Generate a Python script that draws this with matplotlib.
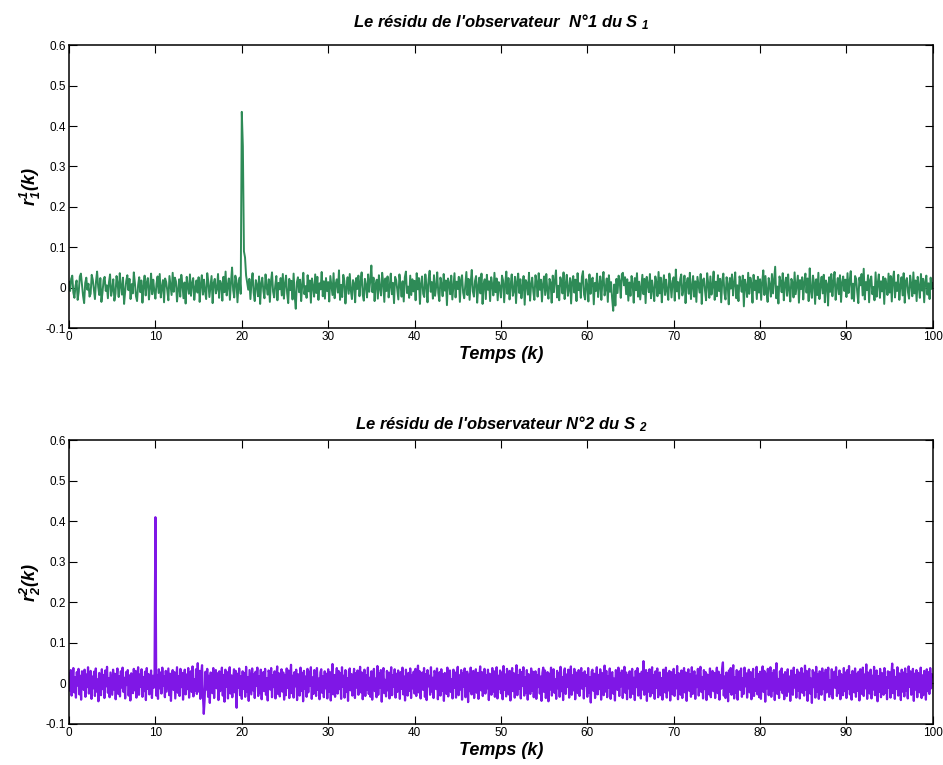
import numpy as np
import matplotlib.pyplot as plt

plt.rcParams["font.family"] = ["Liberation Sans", "DejaVu Sans"]
plt.rcParams["mathtext.fontset"] = "custom"
plt.rcParams["mathtext.rm"] = "Liberation Sans:italic:bold"
plt.rcParams["mathtext.it"] = "Liberation Sans:italic:bold"
plt.rcParams["mathtext.bf"] = "Liberation Sans:italic:bold"

# residual of observer 1 (values in 1e-3), one sample every 0.125 k
r1_milli = [
    15, -8, 22, 30, -12, -25, 5, 18, -30, -10, 28, 35, 8, -20, -38, 12, 25, -5, 10, -22, -15, 32, 20, -3, -28, 16, 40, 2, -18, 24, -35, -12, 19, 27, -8, 6, -26, 14, 33, -20,
    -4, 21, -32, -15, 29, 11, -23, 36, 3, -17, 25, -40, -9, 17, 31, -6, 22, -28, 9, -14, 38, 12, -21, -33, 7, 26, -11, 18, -37, 4, 30, -19, 13, 24, -29, -2, 35, -16, 20, -8,
    -27, 10, 28, -13, 34, -24, 1, 19, -36, 23, 14, -7, -31, 29, 6, -18, 37, -10, 25, 16, -34, -5, 21, -22, 32, 8, -26, 13, -39, 27, 3, -15, 33, -20, 11, 24, -30, -1, 18, -12,
    26, -35, 7, 31, -17, 20, -9, -28, 36, 15, -23, 4, 29, -38, 12, 22, -14, -3, 34, -25, 17, 9, -32, 27, -11, 40, -19, 5, 23, -30, 14, 50, -6, -24, 30, 18, -36, 10, 25, -15,
    435, 350, 90, 75, 30, 12, -5, 22, -28, 14, 36, -12, -33, 19, 7, -21, 28, -40, 11, 25, -8, -26, 33, 3, -17, 21, -35, 15, 38, -10, -24, 6, 29, -31, 12, -4, 24, -19, 34, -27,
    9, 30, -14, -38, 22, -6, 17, -29, 35, -20, -52, 13, 26, -11, 20, -33, 8, 37, -16, 4, -25, 31, -9, 18, -37, 23, 2, -22, 33, -13, 27, -30, 11, -4, 39, -21, 16, -27, 24, -8,
    14, -34, 29, 5, -18, 36, -26, 10, 21, -12, 43, -30, 7, -23, 32, 17, -39, 1, 26, -15, 34, -7, -28, 19, 11, -36, 24, -3, 30, -21, 15, 38, -17, -32, 22, 6, -24, 33, -10, 18,
    55, -11, 25, -33, 9, 20, -27, 31, -2, -19, 37, 13, -35, 23, -8, 28, -24, 4, 35, -16, 12, -38, 27, 19, -6, -29, 33, 8, -22, 16, -34, 26, 40, -13, 3, -25, 30, -18, 21, -9,
    17, -31, 36, -4, 24, -40, 11, 28, -15, -23, 33, 6, -36, 20, 42, -10, 14, -27, 31, -20, 2, 38, -13, -33, 25, 9, -21, 34, -7, 18, -43, 23, 12, -16, 30, -29, 5, 36, -24, 15,
    -3, 27, -35, 19, 31, -12, -26, 8, 39, -18, 22, -30, 13, 44, -9, -22, 17, 29, -37, 4, 25, -14, 35, -40, 10, 21, -28, 32, -5, 16, -33, 26, 7, -19, 37, -11, 23, -31, 14, 2,
    -24, 30, 18, -36, 11, 40, -15, 24, -29, 6, 33, -20, -8, 27, -38, 15, 35, -13, 21, -26, 3, 29, -42, 19, 12, -17, 37, -32, 8, 25, -10, -30, 31, 14, -22, 36, -5, 20, -34, 10,
    28, -18, 34, -7, -27, 22, 13, -37, 30, -11, 18, 43, -24, 5, -31, 26, 16, -14, 38, -28, 9, 32, -20, -3, 24, -39, 15, 29, -12, 20, -33, 36, -6, 11, -25, 27, 41, -17, -29, 21,
    7, -34, 33, -15, 19, 25, -41, 12, -8, 35, -23, 4, 28, -30, 16, 39, -19, -2, 23, -35, 31, -10, 14, -27, -57, 8, -44, 22, -13, 30, 17, -25, 34, 37, 6, 26, -16, 21, -32, 13,
    -20, 29, 10, -37, 24, -6, 36, -22, 15, -29, 1, 32, -16, 22, -38, 27, 9, -11, 34, -26, 18, -4, -33, 28, 13, -21, 39, -14, 25, -36, 7, 31, -18, 20, -8, -30, 35, 11, -24, 17,
    26, -32, 45, -9, 14, -27, 21, 33, -19, -5, 30, -38, 12, 24, -15, 37, -28, 3, 29, -22, 16, -35, 27, 8, -12, 34, -40, 19, 23, -7, -31, 36, 10, -25, 28, -17, 5, 40, -30, 15,
    -21, 31, -8, 22, -36, 17, 35, -13, -29, 26, 9, -41, 24, -2, 33, -19, 12, 38, -26, 6, -33, 28, 15, -10, 30, -46, 20, 4, -23, 37, -15, 25, 11, -37, 32, -6, 18, -28, 27, -12,
    21, -30, 14, 43, -18, 29, -9, -35, 24, 7, -22, 34, -14, 20, 52, -26, 3, -39, 28, 16, -11, 36, -31, 10, 25, -20, 33, -5, -34, 22, 13, -24, 38, -16, 8, 30, -37, 19, -3, 26,
    -29, 15, 35, -12, 23, -33, 48, -7, -25, 30, 12, -40, 21, -18, 37, -28, 5, 27, -14, 32, -36, 18, 9, -44, 26, -10, 34, -21, 16, 39, -30, 2, 24, -16, 31, -35, 13, 28, -8, 20,
    -23, 36, -13, 17, 41, -27, 10, -33, 29, 22, -11, -38, 25, 6, 34, -19, 47, -29, 14, -6, 31, -36, 19, 28, -16, 2, -31, 38, -22, 11, 33, -25, 16, -9, 27, -40, 23, 8, -18, 35,
    -12, 29, -34, 20, 40, -24, 13, -8, 32, -30, 5, 26, -19, 36, -37, 17, 24, -11, -27, 30, 9, -21, 38, -14, 18, -33, 27, 3, -25, 34, -7, 22, -36, 15, 30, -17, 11, -28, 25, -3,
    12,
]

# residual of observer 2 (values in 1e-3), one sample every 0.1 k
r2_milli = [
    25, -18, 33, -30, 8, 38, -22, 15, -35, 28, -5, 36, -27, 19, -40, 30, 11, -16, 34, -33, 22, -9, 40, -25, 6, 31, -38, 17, -12, 29, -31, 37, -20, 10, -44, 26, 3, -29, 35, -14, 21, -36, 32, -7, 41, -23, 13, -34, 27, -2,
    -28, 34, -15, 24, -39, 9, 37, -26, 18, -32, 30, -10, 39, -21, 14, -37, 28, -4, 33, -30, 20, -42, 25, 7, -24, 36, -17, 31, -35, 12, 40, -28, 22, -8, 35, -33, 16, -19, 29, -41, 38, -13, 23, -27, 5, 32, -36, 19, -11, 27,
    410, -30, 21, -38, 35, -12, 27, -25, 39, -6, 17, -34, 31, -20, 8, 37, -29, 24, -43, 14, 33, -16, 28, -37, 2, 40, -23, 18, -31, 36, -9, 26, -40, 11, 34, -27, 22, -14, 38, -35, 15, 30, -21, 42, -32, 10, -18, 35, -26, 50,
    -20, 31, -38, 24, 45, -28, -75, -40, 29, -15, 36, -33, 19, -48, 27, 7, -24, 38, -36, 16, 33, -12, 25, -41, 30, -19, 12, 39, -30, 21, -45, 34, -8, 28, -37, 14, 40, -25, 20, -34, 9, 35, -22, 31, -60, 24, -10, 37, -29, 18,
    -38, 30, -13, 26, -33, 41, -21, 15, -43, 33, 4, -27, 37, -17, 22, -36, 29, -6, 39, -31, 18, -24, 34, -39, 11, 28, -19, 36, -28, 13, -42, 32, 24, -15, 38, -34, 20, -9, 30, -37, 16, 42, -26, 25, -32, 8, 35, -20, 27, -40,
    21, -29, 37, -11, 32, -36, 14, 46, -24, 19, -35, 28, -7, 34, -41, 23, 10, -30, 39, -18, 26, -44, 31, -13, 17, -33, 36, -22, 29, -5, 40, -38, 15, -26, 33, 22, -31, 38, -16, 12, -39, 27, 35, -23, 18, -34, 30, -12, 24, -37,
    35, -20, 28, -42, 16, 48, -27, 21, -33, 9, 38, -25, 31, -14, 26, -38, 40, -8, 19, -35, 33, -21, 13, -43, 29, 37, -17, 23, -30, 11, 36, -36, 25, -10, 32, -28, 17, 41, -22, 27, -39, 6, 34, -31, 20, -15, 39, -26, 14, -33,
    30, -40, 22, 36, -19, 12, -34, 43, -28, 25, -11, 33, -45, 18, 38, -24, 9, -32, 31, -17, 27, -37, 15, 40, -29, 20, -8, 35, -35, 24, -21, 32, 14, -38, 28, -13, 39, -27, 17, -42, 34, 6, -30, 26, -18, 37, -36, 21, -12, 29,
    -25, 36, -31, 16, 44, -22, 30, -37, 11, 27, -16, 38, -33, 23, -41, 33, -7, 19, -28, 40, -20, 14, -36, 31, 25, -14, 37, -39, 8, 28, -30, 35, -18, 22, -43, 26, 12, -26, 39, -32, 18, 32, -21, 10, -37, 34, -11, 27, -35, 15,
    41, -29, 20, -15, 33, -40, 25, -8, 37, -34, 13, 29, -46, 22, -19, 39, -27, 16, 31, -36, 6, 35, -23, 26, -38, 18, 42, -17, 28, -31, 11, 36, -25, 21, -12, 34, -41, 24, 15, -28, 38, -20, 30, -33, 9, 40, -37, 19, -14, 32,
    -24, 27, -39, 43, -16, 22, -32, 36, 10, -27, 31, -42, 17, 38, -19, 25, -35, 12, 45, -29, 20, -13, 34, -37, 28, -6, 40, -30, 15, -22, 33, -40, 23, 8, -26, 37, -18, 29, -34, 14, 30, -38, 21, -9, 36, -25, 17, -43, 26, 39,
    -21, 32, -36, 13, 28, -44, 24, -15, 39, -30, 19, 35, -23, 10, -38, 31, -12, 26, -33, 41, -19, 16, -41, 29, 37, -26, 22, -8, 34, -35, 14, 42, -28, 20, -17, 36, -39, 27, 11, -24, 33, -31, 18, 38, -13, 25, -37, 30, -6, 21,
    -33, 38, -22, 15, -47, 29, 34, -18, 24, -36, 9, 40, -27, 21, -14, 35, -40, 26, 13, -29, 44, -20, 31, -34, 17, -10, 37, -38, 23, 28, -25, 12, -42, 33, 19, -16, 39, -31, 25, -7, 32, -36, 16, 41, -23, 27, -39, 20, -12, 30,
    -35, 22, 36, -26, 14, -41, 31, -9, 38, -30, 24, 18, -37, 29, -15, 55, -28, 11, 33, -43, 26, -20, 35, -32, 16, 40, -24, 21, -38, 30, -11, 37, -34, 19, 27, -29, 13, -40, 34, 8, -22, 39, -35, 25, -17, 31, -42, 28, 15, -27,
    36, -31, 20, -12, 43, -39, 25, 10, -28, 32, -36, 17, 38, -22, 27, -43, 14, 35, -18, 23, -33, 40, -26, 12, 30, -38, 19, -9, 36, -30, 24, 41, -21, 16, -37, 33, -14, 28, -41, 22, 7, -27, 37, -34, 18, 31, -19, 26, -36, 13,
    39, -24, 29, -40, 21, -13, 34, 52, -30, 17, -36, 27, 11, -44, 32, -20, 38, -28, 24, 45, -37, 15, -23, 33, -40, 22, 30, -16, 37, -33, 13, -26, 39, -7, 25, -35, 19, 34, -22, 28, -39, 16, 36, -31, 10, -18, 41, -27, 23, -34,
    29, -38, 18, 42, -21, 31, -45, 24, -12, 36, -29, 14, 40, -33, 26, -17, 33, -41, 20, 50, -26, 11, -36, 30, -15, 37, -24, 22, -39, 28, 9, -31, 35, -20, 17, -43, 32, 25, -28, 39, -10, 21, -35, 34, -18, 27, -37, 13, 38, -23,
    24, -30, 44, -16, 31, -43, 19, 36, -25, 12, -48, 33, -9, 27, -35, 41, -20, 22, -38, 30, 15, -28, 37, -14, 26, -41, 34, -22, 18, 39, -33, 8, -26, 35, -37, 21, 29, -11, 40, -31, 16, -24, 32, -39, 23, 13, -29, 38, -19, 27,
    -36, 33, -14, 43, -27, 20, -40, 31, 10, -22, 37, -33, 24, -18, 29, -42, 35, 16, -26, 39, -31, 22, -12, 47, -38, 27, 14, -25, 34, -37, 19, -15, 41, -29, 23, 32, -44, 18, -21, 36, -34, 26, 9, -28, 38, -23, 15, -39, 30, -11,
    28, -35, 21, 49, -24, 33, -38, 16, -13, 40, -30, 25, 12, -41, 34, -20, 27, -32, 37, -17, 22, -37, 42, -8, 30, -28, 19, 36, -43, 24, -15, 33, -34, 26, 11, -22, 39, -36, 20, -29, 31, 14, -40, 35, -19, 28, -26, 38, -12, 23,
    18,
]

x_ticks = [0, 10, 20, 30, 40, 50, 60, 70, 80, 90, 100]
y_ticks = [-0.1, 0, 0.1, 0.2, 0.3, 0.4, 0.5, 0.6]
y_tick_labels = ["-0.1", "0", "0.1", "0.2", "0.3", "0.4", "0.5", "0.6"]

titles = [
    "Le résidu de l'observateur  N°1 du S ${}_{1}$",
    "Le résidu de l'observateur N°2 du S ${}_{2}$",
]
ylabels = [r"$r_1^1(k)$", r"$r_2^2(k)$"]
colors = ["#2e8b57", "#7f17e6"]

r1 = np.array(r1_milli) / 1000.0
r2 = np.array(r2_milli) / 1000.0
k1 = np.linspace(0, 100, len(r1))
k2 = np.linspace(0, 100, len(r2))

fig = plt.figure(figsize=(9.43, 7.65), dpi=100)
ax1 = fig.add_axes([0.0732, 0.571, 0.916, 0.370])
ax2 = fig.add_axes([0.0732, 0.0536, 0.916, 0.371])

for ax, k, r, title, ylab, col, lw, tpad in zip(
    [ax1, ax2], [k1, k2], [r1, r2], titles, ylabels, colors, [1.4, 1.6], [13, 8]
):
    ax.plot(k, r, color=col, linewidth=lw)
    ax.set_xlim(0, 100)
    ax.set_ylim(-0.1, 0.6)
    ax.set_xticks(x_ticks)
    ax.set_xticklabels([str(t) for t in x_ticks])
    ax.set_yticks(y_ticks)
    ax.set_yticklabels(y_tick_labels)
    ax.tick_params(direction="in", length=5.5, width=0.8, labelsize=8.5,
                   top=True, right=True, pad=2)
    for s in ax.spines.values():
        s.set_linewidth(1.1)
    ax.set_title(title, fontsize=12, fontweight="bold", style="italic", pad=tpad)
    ax.set_xlabel("Temps (k)", fontsize=13, fontweight="bold", style="italic", labelpad=2)
    ax.set_ylabel(ylab, fontsize=13, labelpad=2)

fig.savefig("out.png", dpi=100)
